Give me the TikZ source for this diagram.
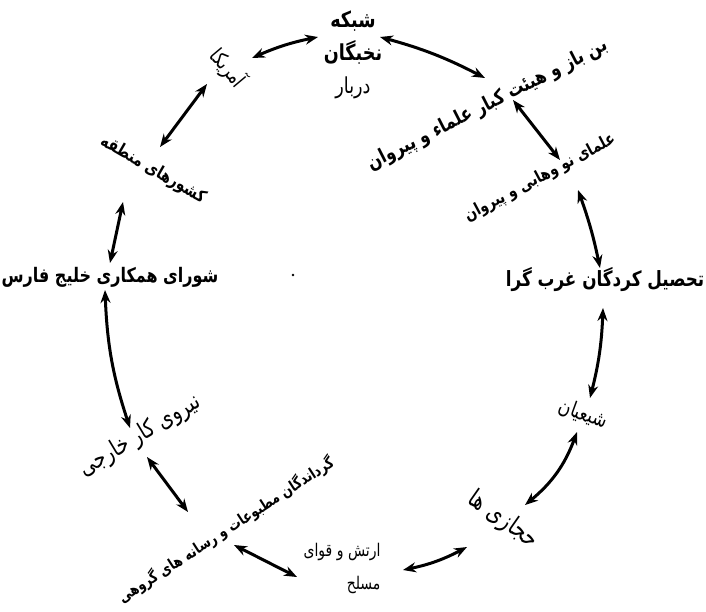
\documentclass[tikz,border=0pt]{standalone}
\usepackage{fontspec}
\newfontfamily\fa[Script=Arabic,FakeStretch=0.8]{DejaVu Sans}
\TeXXeTstate=1
\usetikzlibrary{arrows.meta}

\begin{document}
\begin{tikzpicture}[x=1pt,y=-1pt,
  lbl/.style={font=\fa\bfseries\fontsize{#1}{33}\selectfont,inner sep=1pt},
  lbl/.default=20,
  thin lbl/.style={lbl=#1,font=\fa\mdseries\fontsize{#1}{33}\selectfont},
  conn/.style={{Stealth[length=13pt,width=10pt]}-{Stealth[length=13pt,width=10pt]},line width=3pt}]
\useasboundingbox (0,0) rectangle (706,611);
% --- labels round the ring, clockwise from the top ---
\node[lbl=22,align=center] (shabake) at (353,55) {\beginR شبکه\endR\\\beginR نخبگان\endR\\\beginR\mdseries دربار\endR};
\node[lbl=20,rotate=27]  (benbaz)  at (488,105) {\beginR بن باز و هیئت کبار علماء و پیروان\endR};
\node[lbl=17,rotate=28]  (olama)   at (540,178) {\beginR علمای نو وهابی و پیروان\endR};
\node[lbl=21]            (tahsil)  at (605,280) {\beginR تحصیل کردگان غرب گرا\endR};
\node[thin lbl=21,rotate=-20] (shiian) at (583,414) {\beginR شیعیان\endR};
\node[thin lbl=25,rotate=-35] (hejazi) at (503,520) {\beginR حجازی ها\endR};
\node[thin lbl=17.5,align=right] (artesh) at (342,568) {\beginR ارتش و قوای\endR\\[0pt]\beginR مسلح\endR};
\node[lbl=15.6,rotate=33] (gardan) at (226,530) {\beginR گرداندگان مطبوعات و رسانه های گروهی\endR};
\node[thin lbl=24,rotate=31] (niru) at (140,436) {\beginR نیروی کار خارجی\endR};
\node[lbl=20]            (shura)   at (110,277) {\beginR شورای همکاری خلیج فارس\endR};
\node[lbl=17.5,rotate=-30] (keshvar) at (153,170) {\beginR کشورهای منطقه\endR};
\node[thin lbl=21,rotate=-50] (amrika) at (228,68) {\beginR آمریکا\endR};
\fill (293,275) circle (1.3);
% --- two-way arrows between neighbours ---
\foreach \i/\s/\t/\b in {1/{252,58}/{318,37}/6, 2/{380,37}/{485,78}/6, 3/{513,100}/{560,160}/0,
    4/{578,190}/{600,268}/4, 5/{603,308}/{590,398}/6, 6/{577,432}/{525,505}/15,
    7/{467,547}/{403,570}/8, 8/{297,577}/{234,545}/0, 9/{188,512}/{147,457}/0,
    10/{130,428}/{105,290}/8, 11/{110,263}/{123,202}/0, 12/{160,147}/{207,84}/0}{
  \coordinate (p\i) at (\s);
  \coordinate (q\i) at (\t);
  \draw[conn] (p\i) to[bend left=\b] (q\i);}
\end{tikzpicture}
\end{document}
